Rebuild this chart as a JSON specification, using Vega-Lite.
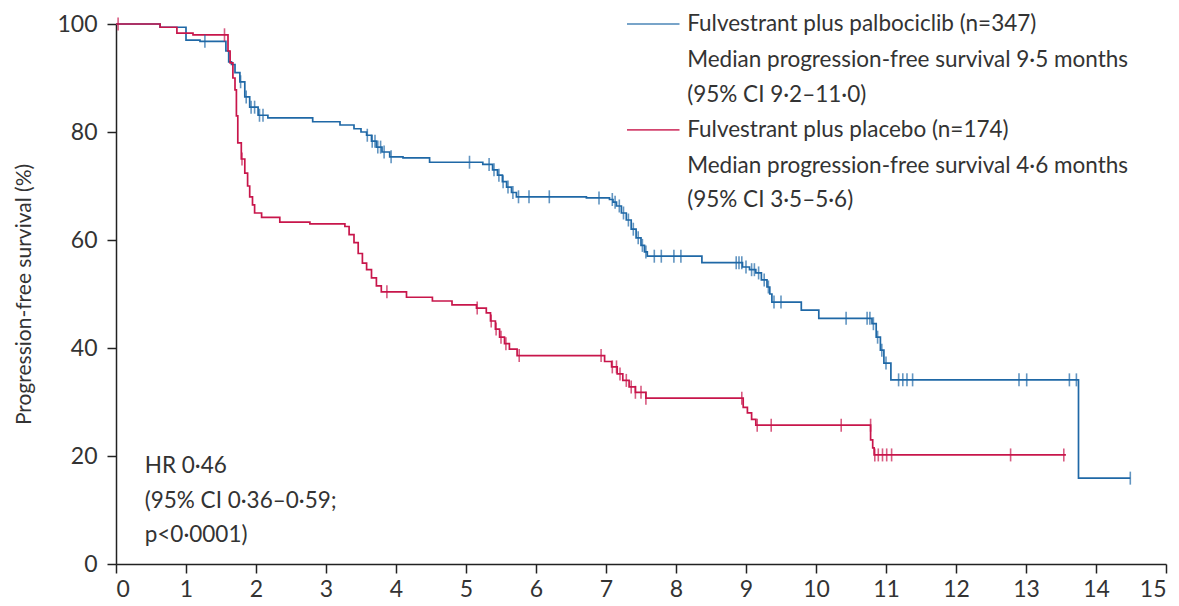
{
  "$schema": "https://vega.github.io/schema/vega-lite/v6.json",
  "width": 1050,
  "height": 540,
  "autosize": {"type": "none"},
  "padding": {"left": 116, "top": 24, "right": 13, "bottom": 42},
  "background": "white",
  "config": {
    "view": {"stroke": null},
    "axis": {
      "grid": false,
      "domainColor": "#222222",
      "domainWidth": 1.5,
      "tickColor": "#222222",
      "tickWidth": 1.5,
      "tickSize": 9,
      "labelFont": "Lato",
      "labelFontSize": 23,
      "labelColor": "#333333",
      "titleFont": "Lato",
      "titleFontSize": 21,
      "titleFontWeight": "normal",
      "titleColor": "#333333"
    }
  },
  "datasets": {
    "curves": [
      {"arm": "palbo", "t": 0, "s": 100},
      {"arm": "palbo", "t": 0.63, "s": 99.4},
      {"arm": "palbo", "t": 1.0, "s": 97.0},
      {"arm": "palbo", "t": 1.2, "s": 96.8},
      {"arm": "palbo", "t": 1.57, "s": 95.0},
      {"arm": "palbo", "t": 1.61, "s": 93.0},
      {"arm": "palbo", "t": 1.65, "s": 92.5},
      {"arm": "palbo", "t": 1.7, "s": 91.0},
      {"arm": "palbo", "t": 1.77, "s": 89.3},
      {"arm": "palbo", "t": 1.84, "s": 86.5},
      {"arm": "palbo", "t": 1.91, "s": 84.6},
      {"arm": "palbo", "t": 2.03, "s": 83.1},
      {"arm": "palbo", "t": 2.17, "s": 82.6},
      {"arm": "palbo", "t": 2.81, "s": 81.9},
      {"arm": "palbo", "t": 3.2, "s": 81.3},
      {"arm": "palbo", "t": 3.4, "s": 80.6},
      {"arm": "palbo", "t": 3.5, "s": 80.0},
      {"arm": "palbo", "t": 3.58, "s": 79.4},
      {"arm": "palbo", "t": 3.65, "s": 78.3},
      {"arm": "palbo", "t": 3.72, "s": 77.2},
      {"arm": "palbo", "t": 3.8, "s": 76.3},
      {"arm": "palbo", "t": 3.91, "s": 75.4},
      {"arm": "palbo", "t": 4.1, "s": 75.2},
      {"arm": "palbo", "t": 4.48, "s": 74.4},
      {"arm": "palbo", "t": 5.24, "s": 74.0},
      {"arm": "palbo", "t": 5.38, "s": 73.0},
      {"arm": "palbo", "t": 5.45, "s": 72.0},
      {"arm": "palbo", "t": 5.52, "s": 70.8},
      {"arm": "palbo", "t": 5.58, "s": 69.8},
      {"arm": "palbo", "t": 5.65, "s": 68.8},
      {"arm": "palbo", "t": 5.72, "s": 68.0},
      {"arm": "palbo", "t": 6.72, "s": 67.8},
      {"arm": "palbo", "t": 7.05, "s": 67.5},
      {"arm": "palbo", "t": 7.1, "s": 67.0},
      {"arm": "palbo", "t": 7.15, "s": 66.3},
      {"arm": "palbo", "t": 7.22, "s": 65.0},
      {"arm": "palbo", "t": 7.29, "s": 63.7},
      {"arm": "palbo", "t": 7.36, "s": 62.0},
      {"arm": "palbo", "t": 7.43, "s": 60.4},
      {"arm": "palbo", "t": 7.5, "s": 59.0},
      {"arm": "palbo", "t": 7.55, "s": 57.8},
      {"arm": "palbo", "t": 7.59, "s": 57.0},
      {"arm": "palbo", "t": 8.37, "s": 55.8},
      {"arm": "palbo", "t": 8.95, "s": 55.0},
      {"arm": "palbo", "t": 9.05, "s": 54.5},
      {"arm": "palbo", "t": 9.14, "s": 53.9},
      {"arm": "palbo", "t": 9.22, "s": 52.6},
      {"arm": "palbo", "t": 9.3, "s": 51.3},
      {"arm": "palbo", "t": 9.34, "s": 50.0},
      {"arm": "palbo", "t": 9.37, "s": 48.5},
      {"arm": "palbo", "t": 9.79, "s": 47.0},
      {"arm": "palbo", "t": 10.04, "s": 45.5},
      {"arm": "palbo", "t": 10.8, "s": 44.5},
      {"arm": "palbo", "t": 10.86, "s": 42.0},
      {"arm": "palbo", "t": 10.92, "s": 39.6},
      {"arm": "palbo", "t": 10.97, "s": 37.2},
      {"arm": "palbo", "t": 11.07, "s": 34.1},
      {"arm": "palbo", "t": 13.75, "s": 15.9},
      {"arm": "palbo", "t": 14.49, "s": 15.9},
      {"arm": "placebo", "t": 0, "s": 100},
      {"arm": "placebo", "t": 0.63, "s": 99.4},
      {"arm": "placebo", "t": 0.87, "s": 98.3},
      {"arm": "placebo", "t": 1.1, "s": 98.0},
      {"arm": "placebo", "t": 1.6, "s": 95.0},
      {"arm": "placebo", "t": 1.63, "s": 92.8},
      {"arm": "placebo", "t": 1.67, "s": 90.0},
      {"arm": "placebo", "t": 1.7, "s": 87.8},
      {"arm": "placebo", "t": 1.72, "s": 83.0},
      {"arm": "placebo", "t": 1.74, "s": 78.0},
      {"arm": "placebo", "t": 1.79, "s": 75.0},
      {"arm": "placebo", "t": 1.84, "s": 72.4},
      {"arm": "placebo", "t": 1.88, "s": 70.0},
      {"arm": "placebo", "t": 1.91, "s": 68.0},
      {"arm": "placebo", "t": 1.95, "s": 66.5},
      {"arm": "placebo", "t": 1.98, "s": 65.0},
      {"arm": "placebo", "t": 2.08, "s": 64.2},
      {"arm": "placebo", "t": 2.34, "s": 63.3},
      {"arm": "placebo", "t": 2.77, "s": 63.0},
      {"arm": "placebo", "t": 3.27, "s": 62.5},
      {"arm": "placebo", "t": 3.33, "s": 61.0},
      {"arm": "placebo", "t": 3.4, "s": 59.5},
      {"arm": "placebo", "t": 3.46, "s": 57.5},
      {"arm": "placebo", "t": 3.52, "s": 55.7},
      {"arm": "placebo", "t": 3.58, "s": 54.5},
      {"arm": "placebo", "t": 3.65, "s": 53.0},
      {"arm": "placebo", "t": 3.72, "s": 51.5},
      {"arm": "placebo", "t": 3.79, "s": 50.4},
      {"arm": "placebo", "t": 4.15, "s": 49.4},
      {"arm": "placebo", "t": 4.52, "s": 48.7},
      {"arm": "placebo", "t": 4.8, "s": 48.0},
      {"arm": "placebo", "t": 5.15, "s": 47.4},
      {"arm": "placebo", "t": 5.29, "s": 46.5},
      {"arm": "placebo", "t": 5.35, "s": 45.0},
      {"arm": "placebo", "t": 5.42, "s": 43.5},
      {"arm": "placebo", "t": 5.48, "s": 42.0},
      {"arm": "placebo", "t": 5.55, "s": 40.8},
      {"arm": "placebo", "t": 5.62, "s": 39.8},
      {"arm": "placebo", "t": 5.73, "s": 38.6},
      {"arm": "placebo", "t": 6.98, "s": 37.5},
      {"arm": "placebo", "t": 7.08, "s": 36.5},
      {"arm": "placebo", "t": 7.16, "s": 35.2},
      {"arm": "placebo", "t": 7.24, "s": 34.0},
      {"arm": "placebo", "t": 7.33, "s": 32.8},
      {"arm": "placebo", "t": 7.42, "s": 31.8},
      {"arm": "placebo", "t": 7.57, "s": 30.7},
      {"arm": "placebo", "t": 8.96, "s": 29.0},
      {"arm": "placebo", "t": 9.02, "s": 28.0},
      {"arm": "placebo", "t": 9.08, "s": 26.8},
      {"arm": "placebo", "t": 9.14, "s": 25.7},
      {"arm": "placebo", "t": 10.78, "s": 23.0},
      {"arm": "placebo", "t": 10.81, "s": 21.5},
      {"arm": "placebo", "t": 10.83, "s": 20.2},
      {"arm": "placebo", "t": 13.57, "s": 20.2}
    ],
    "censors": [
      {"arm": "palbo", "t": 1.27, "s": 96.8},
      {"arm": "palbo", "t": 1.78, "s": 89.3},
      {"arm": "palbo", "t": 1.86, "s": 86.5},
      {"arm": "palbo", "t": 1.93, "s": 84.6},
      {"arm": "palbo", "t": 1.98, "s": 84.6},
      {"arm": "palbo", "t": 2.05, "s": 83.1},
      {"arm": "palbo", "t": 2.1, "s": 83.1},
      {"arm": "palbo", "t": 3.59, "s": 79.4},
      {"arm": "palbo", "t": 3.66, "s": 78.3},
      {"arm": "palbo", "t": 3.7, "s": 78.3},
      {"arm": "palbo", "t": 3.74, "s": 77.2},
      {"arm": "palbo", "t": 3.78, "s": 77.2},
      {"arm": "palbo", "t": 3.83, "s": 76.3},
      {"arm": "palbo", "t": 3.93, "s": 75.4},
      {"arm": "palbo", "t": 5.05, "s": 74.4},
      {"arm": "palbo", "t": 5.33, "s": 74.0},
      {"arm": "palbo", "t": 5.4, "s": 73.0},
      {"arm": "palbo", "t": 5.47, "s": 72.0},
      {"arm": "palbo", "t": 5.53, "s": 70.8},
      {"arm": "palbo", "t": 5.6, "s": 69.8},
      {"arm": "palbo", "t": 5.67, "s": 68.8},
      {"arm": "palbo", "t": 5.75, "s": 68.0},
      {"arm": "palbo", "t": 5.9, "s": 68.0},
      {"arm": "palbo", "t": 6.19, "s": 68.0},
      {"arm": "palbo", "t": 6.9, "s": 67.8},
      {"arm": "palbo", "t": 7.09, "s": 67.5},
      {"arm": "palbo", "t": 7.13, "s": 67.0},
      {"arm": "palbo", "t": 7.19, "s": 66.3},
      {"arm": "palbo", "t": 7.25, "s": 65.0},
      {"arm": "palbo", "t": 7.32, "s": 63.7},
      {"arm": "palbo", "t": 7.39, "s": 62.0},
      {"arm": "palbo", "t": 7.46, "s": 60.4},
      {"arm": "palbo", "t": 7.52, "s": 59.0},
      {"arm": "palbo", "t": 7.57, "s": 57.8},
      {"arm": "palbo", "t": 7.69, "s": 57.0},
      {"arm": "palbo", "t": 7.79, "s": 57.0},
      {"arm": "palbo", "t": 7.97, "s": 57.0},
      {"arm": "palbo", "t": 8.07, "s": 57.0},
      {"arm": "palbo", "t": 8.86, "s": 55.8},
      {"arm": "palbo", "t": 8.9, "s": 55.8},
      {"arm": "palbo", "t": 8.94, "s": 55.8},
      {"arm": "palbo", "t": 9.0, "s": 55.0},
      {"arm": "palbo", "t": 9.08, "s": 54.5},
      {"arm": "palbo", "t": 9.12, "s": 54.5},
      {"arm": "palbo", "t": 9.18, "s": 53.9},
      {"arm": "palbo", "t": 9.26, "s": 52.6},
      {"arm": "palbo", "t": 9.32, "s": 51.3},
      {"arm": "palbo", "t": 9.4, "s": 48.5},
      {"arm": "palbo", "t": 9.5, "s": 48.5},
      {"arm": "palbo", "t": 10.43, "s": 45.5},
      {"arm": "palbo", "t": 10.73, "s": 45.5},
      {"arm": "palbo", "t": 10.77, "s": 45.5},
      {"arm": "palbo", "t": 10.82, "s": 44.5},
      {"arm": "palbo", "t": 10.88, "s": 42.0},
      {"arm": "palbo", "t": 10.94, "s": 39.6},
      {"arm": "palbo", "t": 11.0, "s": 37.2},
      {"arm": "palbo", "t": 11.18, "s": 34.1},
      {"arm": "palbo", "t": 11.24, "s": 34.1},
      {"arm": "palbo", "t": 11.3, "s": 34.1},
      {"arm": "palbo", "t": 11.38, "s": 34.1},
      {"arm": "palbo", "t": 12.9, "s": 34.1},
      {"arm": "palbo", "t": 13.01, "s": 34.1},
      {"arm": "palbo", "t": 13.62, "s": 34.1},
      {"arm": "palbo", "t": 13.72, "s": 34.1},
      {"arm": "palbo", "t": 14.49, "s": 15.9},
      {"arm": "placebo", "t": 0.03, "s": 100},
      {"arm": "placebo", "t": 1.55, "s": 98.0},
      {"arm": "placebo", "t": 1.8, "s": 75.0},
      {"arm": "placebo", "t": 3.87, "s": 50.4},
      {"arm": "placebo", "t": 5.16, "s": 47.4},
      {"arm": "placebo", "t": 5.36, "s": 45.0},
      {"arm": "placebo", "t": 5.43, "s": 43.5},
      {"arm": "placebo", "t": 5.5, "s": 42.0},
      {"arm": "placebo", "t": 5.57, "s": 40.8},
      {"arm": "placebo", "t": 5.76, "s": 38.6},
      {"arm": "placebo", "t": 6.93, "s": 38.6},
      {"arm": "placebo", "t": 7.09, "s": 36.5},
      {"arm": "placebo", "t": 7.15, "s": 36.5},
      {"arm": "placebo", "t": 7.2, "s": 35.2},
      {"arm": "placebo", "t": 7.29, "s": 34.0},
      {"arm": "placebo", "t": 7.36, "s": 32.8},
      {"arm": "placebo", "t": 7.42, "s": 31.8},
      {"arm": "placebo", "t": 7.5, "s": 31.8},
      {"arm": "placebo", "t": 7.57, "s": 30.7},
      {"arm": "placebo", "t": 8.94, "s": 30.7},
      {"arm": "placebo", "t": 9.16, "s": 25.7},
      {"arm": "placebo", "t": 9.36, "s": 25.7},
      {"arm": "placebo", "t": 10.36, "s": 25.7},
      {"arm": "placebo", "t": 10.78, "s": 25.7},
      {"arm": "placebo", "t": 10.84, "s": 20.2},
      {"arm": "placebo", "t": 10.89, "s": 20.2},
      {"arm": "placebo", "t": 10.95, "s": 20.2},
      {"arm": "placebo", "t": 11.01, "s": 20.2},
      {"arm": "placebo", "t": 11.08, "s": 20.2},
      {"arm": "placebo", "t": 12.78, "s": 20.2},
      {"arm": "placebo", "t": 13.54, "s": 20.2}
    ],
    "legendLines": [
      {"arm": "palbo", "t": 7.3, "t2": 8.05, "s": 100},
      {"arm": "placebo", "t": 7.3, "t2": 8.05, "s": 80.4}
    ],
    "labels": [
      {"t": 8.16, "s": 100, "text": "Fulvestrant plus palbociclib (n=347)"},
      {"t": 8.16, "s": 93.3, "text": "Median progression-free survival 9·5 months"},
      {"t": 8.16, "s": 86.9, "text": "(95% CI 9·2–11·0)"},
      {"t": 8.16, "s": 80.4, "text": "Fulvestrant plus placebo (n=174)"},
      {"t": 8.16, "s": 73.7, "text": "Median progression-free survival 4·6 months"},
      {"t": 8.16, "s": 67.4, "text": "(95% CI 3·5–5·6)"},
      {"t": 0.41, "s": 18.1, "text": "HR 0·46"},
      {"t": 0.41, "s": 11.7, "text": "(95% CI 0·36–0·59;"},
      {"t": 0.41, "s": 5.4, "text": "p<0·0001)"}
    ]
  },
  "layer": [
    {
      "data": {"name": "curves"},
      "mark": {"type": "line", "interpolate": "step-after", "strokeWidth": 1.7},
      "encoding": {
        "x": {
          "field": "t", "type": "quantitative",
          "scale": {"domain": [0, 15], "nice": false},
          "axis": {"values": [0,1,2,3,4,5,6,7,8,9,10,11,12,13,14,15], "format": "d", "title": null, "labelPadding": 5}
        },
        "y": {
          "field": "s", "type": "quantitative",
          "scale": {"domain": [0, 100], "nice": false},
          "axis": {"values": [0,20,40,60,80,100], "format": "d", "title": "Progression-free survival (%)", "labelPadding": 10, "titlePadding": 22}
        },
        "color": {
          "field": "arm", "type": "nominal",
          "scale": {"domain": ["palbo", "placebo"], "range": ["#1f68a6", "#c8164b"]},
          "legend": null
        },
        "order": {"field": "t", "type": "quantitative"}
      }
    },
    {
      "data": {"name": "censors"},
      "mark": {"type": "tick", "orient": "vertical", "size": 13, "thickness": 1.6},
      "encoding": {
        "x": {"field": "t", "type": "quantitative"},
        "y": {"field": "s", "type": "quantitative"},
        "color": {"field": "arm", "type": "nominal", "legend": null}
      }
    },
    {
      "data": {"name": "legendLines"},
      "mark": {"type": "rule", "strokeWidth": 1.7, "opacity": 0.8},
      "encoding": {
        "x": {"field": "t", "type": "quantitative"},
        "x2": {"field": "t2"},
        "y": {"field": "s", "type": "quantitative"},
        "color": {"field": "arm", "type": "nominal", "legend": null}
      }
    },
    {
      "data": {"name": "labels"},
      "mark": {"type": "text", "align": "left", "baseline": "middle", "font": "Lato", "fontSize": 22.5, "color": "#333333"},
      "encoding": {
        "x": {"field": "t", "type": "quantitative"},
        "y": {"field": "s", "type": "quantitative"},
        "text": {"field": "text"}
      }
    }
  ]
}
